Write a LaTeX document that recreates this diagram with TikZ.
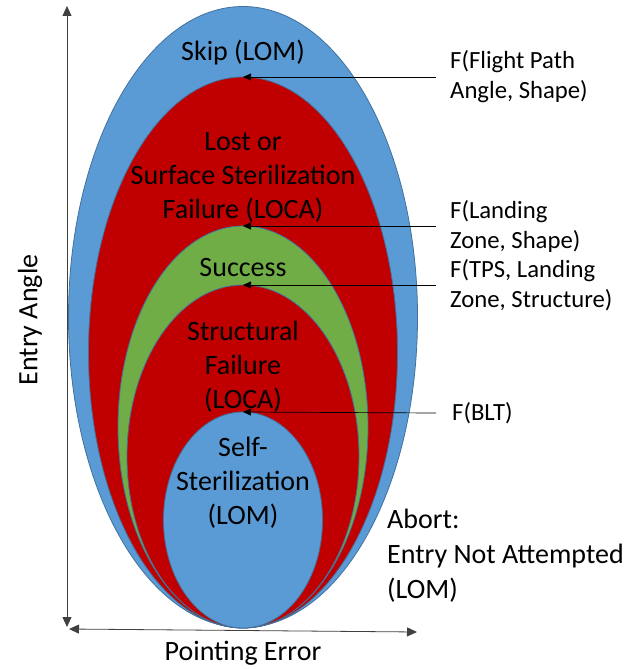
\documentclass[tikz,border=0pt]{standalone}
\usepackage{fontspec}
\setmainfont{Carlito}
\usetikzlibrary{shapes.geometric,arrows.meta}
\definecolor{oblue}{HTML}{5B9BD5}
\definecolor{ored}{HTML}{C00000}
\definecolor{ogreen}{HTML}{70AD47}
\definecolor{oedge}{HTML}{41719C}
\begin{document}
\begin{tikzpicture}[x=1pt,y=-1pt,
  region/.style={ellipse, draw=oedge, line width=0.8pt, inner sep=0pt, outer sep=0pt},
  big/.style={font=\fontsize{28}{34}\selectfont, align=center, inner sep=0pt},
  side/.style={font=\fontsize{24.7}{30}\selectfont, align=left, anchor=west, inner sep=0pt},
  pointer/.style={-{Triangle[length=8pt,width=7pt]}, line width=0.7pt},
  axis/.style={{Triangle[length=10pt,width=9pt]}-{Triangle[length=10pt,width=9pt]}, line width=0.8pt, draw=black!75}]
\useasboundingbox (0,0) rectangle (644,669);
% regions
\node[region, fill=oblue, minimum width=349pt, minimum height=621pt] (outer) at (243,317) {};
\node[region, fill=ored, minimum width=309pt, minimum height=551pt] (lost) at (243,352.5) {};
\node[region, fill=ogreen, minimum width=250pt, minimum height=402pt] (succ) at (243,427) {};
\node[region, fill=ored, minimum width=232pt, minimum height=343pt] (struct) at (243,456.5) {};
\node[region, fill=oblue, minimum width=159pt, minimum height=216pt] (self) at (243,520) {};
% region labels
\node[big] (skip) at (243,53) {Skip (LOM)};
\node[big] (lostlbl) at (243,177) {Lost or\\Surface Sterilization\\Failure (LOCA)};
\node[big] (succlbl) at (243,268) {Success};
\node[big] (structlbl) at (243,367) {Structural\\Failure\\(LOCA)};
\node[big] (selflbl) at (243,483) {Self-\\Sterilization\\(LOM)};
% side labels
\node[side] (f1) at (450,76.5) {F(Flight Path\\Angle, Shape)};
\node[side] (f2) at (450,226) {F(Landing\\Zone, Shape)};
\node[side] (f3) at (450,285) {F(TPS, Landing\\Zone, Structure)};
\node[side] (f4) at (452,413) {F(BLT)};
\node[big, align=left, anchor=west, font=\fontsize{28}{35}\selectfont] (abort) at (387,556) {Abort:\\Entry Not Attempted\\(LOM)};
% pointers
\coordinate (p1) at (436,77);
\coordinate (p2) at (436,226);
\coordinate (p3) at (436,285);
\coordinate (p4) at (436,413);
\draw[pointer] (p1) -- (lost.north);
\draw[pointer] (p2) -- (succ.north);
\draw[pointer] (p3) -- (struct.north);
\draw[pointer] (p4) -- (self.north);
% axes
\coordinate (vt) at (67,6);
\coordinate (vb) at (67,627);
\coordinate (hl) at (69,629);
\coordinate (hr) at (417,632);
\draw[axis] (vb) -- (vt);
\draw[axis] (hl) -- (hr);
\node[big, rotate=90] (ylbl) at (30,320) {Entry Angle};
\node[big] (xlbl) at (243,653) {Pointing Error};
\end{tikzpicture}
\end{document}
